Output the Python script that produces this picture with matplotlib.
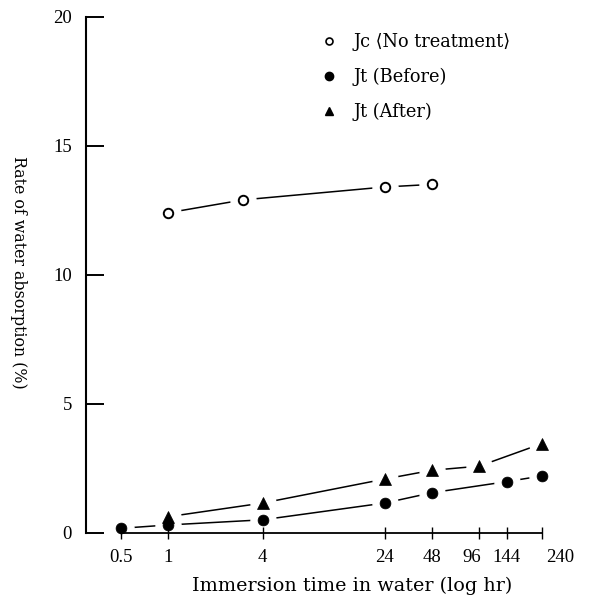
import matplotlib
matplotlib.use("Agg")
import matplotlib.pyplot as plt
from matplotlib.lines import Line2D
from matplotlib.ticker import FixedLocator, NullLocator
from matplotlib.transforms import ScaledTranslation

# ---- data ----
x_ticks = [0.5, 1, 4, 24, 48, 96, 144, 240]
x_tick_labels = ["0.5", "1", "4", "24", "48", "96", "144", "240"]
y_ticks = [0, 5, 10, 15, 20]

jc_x = [1, 3, 24, 48]
jc_y = [12.4, 12.9, 13.4, 13.5]

before_x = [0.5, 1, 4, 24, 48, 144, 240]
before_y = [0.17, 0.3, 0.5, 1.15, 1.55, 1.98, 2.2]

after_x = [1, 4, 24, 48, 96, 240]
after_y = [0.62, 1.15, 2.08, 2.42, 2.58, 3.45]

labels = ["Jc \u27e8No treatment\u27e9", "Jt (Before)", "Jt (After)"]

serif = ["Liberation Serif", "DejaVu Serif", "DejaVu Sans"]
plt.rcParams["font.family"] = serif

W, H = 589, 599
fig = plt.figure(figsize=(W / 100, H / 100), dpi=100)
left, right = 85.7 / W, 541.7 / W
bottom, top = (H - 532.7) / H, (H - 16.7) / H
ax = fig.add_axes([left, bottom, right - left, top - bottom])

ax.set_xscale("log")
ax.set_xlim(0.298, 240)
ax.set_ylim(0, 20)

series = [
    (jc_x, jc_y, dict(marker="o", ms=6.8, mfc="white", mec="black", mew=1.4)),
    (before_x, before_y, dict(marker="o", ms=7.8, mfc="black", mec="black", mew=0.5)),
    (after_x, after_y, dict(marker="^", ms=8.3, mfc="black", mec="black", mew=0.5)),
]

for xs, ys, st in series:
    ax.plot(xs, ys, color="black", lw=1.1, zorder=1, clip_on=False)
for xs, ys, st in series:
    ax.plot(xs, ys, ls="none", marker="o", ms=18, mfc="white", mec="white",
            zorder=1.5, clip_on=False)
for xs, ys, st in series:
    ax.plot(xs, ys, ls="none", zorder=4, clip_on=False, **st)

# spines
for s in ["top", "right"]:
    ax.spines[s].set_visible(False)
ax.spines["left"].set_linewidth(1.5)
ax.spines["bottom"].set_linewidth(1.3)
ax.spines["left"].set_bounds(0, 20)
ax.spines["bottom"].set_bounds(0.5, 240)

ax.xaxis.set_major_locator(FixedLocator(x_ticks))
ax.set_xticklabels(x_tick_labels)
ax.xaxis.set_minor_locator(NullLocator())
ax.set_yticks(y_ticks)
ax.set_yticklabels([str(v) for v in y_ticks])

ax.tick_params(axis="y", direction="in", length=13, width=1.4, pad=10,
               labelsize=13.5)
ax.tick_params(axis="x", direction="inout", length=8, width=1.0, pad=8,
               labelsize=13.5)

# small typesetting offsets of some x tick labels, as in the reference
shifts = {"96": -8, "240": 18}
for lab in ax.get_xticklabels():
    dx = shifts.get(lab.get_text(), 0)
    if dx:
        lab.set_transform(lab.get_transform() +
                          ScaledTranslation(dx / 100, 0, fig.dpi_scale_trans))

ax.set_xlabel("Immersion time in water (log hr)", fontsize=13.8,
              family=["DejaVu Serif", "DejaVu Sans"])
ax.xaxis.set_label_coords((352 - 85.7) / 456, -(586 - 532.7) / 516, )
ax.xaxis.label.set_va("center")
ax.set_ylabel("Rate of water absorption (%)", fontsize=11.4,
              family=["DejaVu Serif", "DejaVu Sans"], rotation=-90)
ax.yaxis.label.set_va("center")
ax.yaxis.set_label_coords((18 - 85.7) / 456, (532.7 - 272) / 516)

handles = [
    Line2D([], [], ls="none", marker="o", ms=5, mfc="white", mec="black", mew=1.2),
    Line2D([], [], ls="none", marker="o", ms=6, mfc="black", mec="black"),
    Line2D([], [], ls="none", marker="^", ms=6, mfc="black", mec="black"),
]
leg = ax.legend(handles, labels, loc="upper left",
                bbox_to_anchor=(320 / W, 1 - 33 / H), bbox_transform=fig.transFigure,
                frameon=False, handlelength=1.0, handletextpad=0.9,
                labelspacing=0.95, borderpad=0, borderaxespad=0,
                prop=dict(family=["DejaVu Serif", "DejaVu Sans"], size=12.8))

fig.savefig("out.png", dpi=100)
